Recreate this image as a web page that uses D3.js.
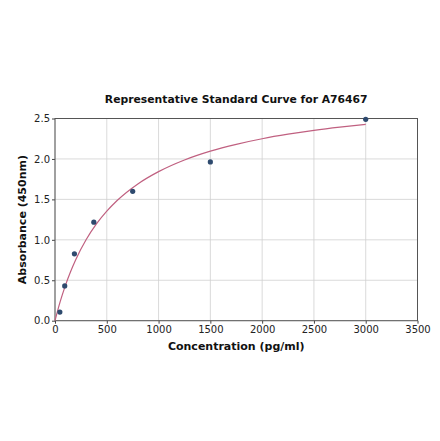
<!DOCTYPE html>
<html><head><meta charset="utf-8">
<script src="https://cdn.jsdelivr.net/npm/d3@7"></script>
<style>body{margin:0;background:#fff;} svg{display:block;}</style>
</head><body>
<svg id="c" width="440" height="441"></svg>
<script>
const title = "Representative Standard Curve for A76467";
const xLabel = "Concentration (pg/ml)";
const yLabel = "Absorbance (450nm)";
const xTicks = [0, 500, 1000, 1500, 2000, 2500, 3000, 3500];
const yTicks = [0.0, 0.5, 1.0, 1.5, 2.0, 2.5];
const pointConc = [46.875, 93.75, 187.5, 375, 750, 1500, 3000];
const pointAbs = [0.107, 0.43, 0.827, 1.218, 1.60, 1.963, 2.49];
const curveConc = [0, 25, 50, 100, 150, 200, 300, 400, 500, 600, 800, 1000, 1250, 1500, 1750, 2000, 2250, 2500, 2750, 3000];
const curveAbs = [0, 0.122, 0.235, 0.434, 0.605, 0.754, 1.0, 1.196, 1.354, 1.486, 1.691, 1.843, 1.987, 2.096, 2.181, 2.25, 2.306, 2.353, 2.393, 2.428];

const svg = d3.select("#c");
const m = {l: 55, r: 417.5, t: 118.5, b: 320.7};
const x = d3.scaleLinear().domain([0, 3500]).range([m.l, m.r]);
const y = d3.scaleLinear().domain([0, 2.5]).range([m.b, m.t]);
const font = "DejaVu Sans, sans-serif";

// grid
svg.append("g").selectAll("line").data(xTicks).join("line")
  .attr("x1", d => x(d)).attr("x2", d => x(d)).attr("y1", m.t).attr("y2", m.b)
  .attr("stroke", "#d0d0d0").attr("stroke-width", 0.8);
svg.append("g").selectAll("line").data(yTicks).join("line")
  .attr("x1", m.l).attr("x2", m.r).attr("y1", d => y(d)).attr("y2", d => y(d))
  .attr("stroke", "#d0d0d0").attr("stroke-width", 0.8);

// axes
const xAxis = svg.append("g").attr("transform", `translate(0,${m.b})`)
  .call(d3.axisBottom(x).tickValues(xTicks).tickFormat(d3.format("d")).tickSize(3).tickPadding(2));
const yAxis = svg.append("g").attr("transform", `translate(${m.l},0)`)
  .call(d3.axisLeft(y).tickValues(yTicks).tickFormat(d3.format(".1f")).tickSize(3).tickPadding(2));
[xAxis, yAxis].forEach(a => {
  a.selectAll("text").attr("font-family", font).attr("font-size", 10).attr("fill", "#222");
  a.selectAll("line").attr("stroke", "#444");
  a.select(".domain").remove();
});

// frame
svg.append("rect").attr("x", m.l).attr("y", m.t).attr("width", m.r - m.l).attr("height", m.b - m.t)
  .attr("fill", "none").attr("stroke", "#555").attr("stroke-width", 1);

// curve
const line = d3.line().x((d, i) => x(curveConc[i])).y((d, i) => y(curveAbs[i])).curve(d3.curveMonotoneX);
svg.append("path").datum(curveConc).attr("d", line)
  .attr("fill", "none").attr("stroke", "#c06080").attr("stroke-width", 1.2);

// points
svg.append("g").selectAll("circle").data(pointConc).join("circle")
  .attr("cx", d => x(d)).attr("cy", (d, i) => y(pointAbs[i])).attr("r", 2.6)
  .attr("fill", "#2e4a6e");

// texts
svg.append("text").attr("x", (m.l + m.r) / 2).attr("y", 103).attr("text-anchor", "middle")
  .attr("font-family", font).attr("font-weight", "bold").attr("font-size", 10.8).attr("fill", "#111")
  .text(title);
svg.append("text").attr("x", (m.l + m.r) / 2).attr("y", 350).attr("text-anchor", "middle")
  .attr("font-family", font).attr("font-weight", "bold").attr("font-size", 11).attr("fill", "#111")
  .text(xLabel);
svg.append("text").attr("transform", `translate(26,${(m.t + m.b) / 2}) rotate(-90)`).attr("text-anchor", "middle")
  .attr("font-family", font).attr("font-weight", "bold").attr("font-size", 11).attr("fill", "#111")
  .text(yLabel);
</script>
</body></html>
